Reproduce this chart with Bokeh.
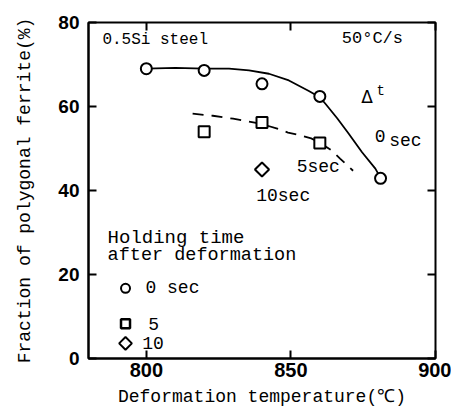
import numpy as np
from bokeh.plotting import figure
from bokeh.models import Range1d, LinearAxis, FixedTicker, Label, CustomJSTickFormatter
from bokeh.embed import file_html
from bokeh.resources import INLINE

# ---- data ----
temp_0s = [800, 820, 840, 860, 881]
frac_0s = [69.0, 68.6, 65.4, 62.4, 42.9]
temp_5s = [820, 840, 860]
frac_5s = [54.0, 56.2, 51.3]
temp_10s = [840]
frac_10s = [45.0]

# fitted trend curves (as drawn in the original figure)
curve0_x = [800, 810, 820, 828.6, 835.5, 842.4, 849.3, 856.2, 860, 862, 866, 870, 874.6, 879.2, 881]
curve0_y = [69.0, 69.2, 69.0, 69.0, 68.6, 67.8, 66.2, 63.7, 62.2, 60.6, 57.2, 53.5, 49.1, 45.2, 43.0]
curve5_x = [816, 823, 830, 837, 840, 845, 849, 853, 857, 860, 864, 867, 871.5]
curve5_y = [58.3, 57.8, 57.1, 56.2, 55.8, 54.8, 53.8, 53.2, 52.4, 51.4, 49.6, 47.6, 44.7]

x_ticks = [800, 850, 900]
y_ticks = [0, 20, 40, 60, 80]

MONO = "Liberation Mono"
SANS = "Liberation Sans"

p = figure(width=451, height=411, output_backend="svg", toolbar_location=None,
           x_range=Range1d(780, 900), y_range=Range1d(0, 80),
           min_border_left=88, min_border_right=16, min_border_top=22, min_border_bottom=53)
p.background_fill_color = "white"
p.border_fill_color = "white"
p.grid.visible = False
p.outline_line_color = "black"
p.outline_line_width = 2

for ax in (p.xaxis[0], p.yaxis[0]):
    ax.axis_line_color = "black"
    ax.axis_line_width = 2
    ax.major_tick_in = 8
    ax.major_tick_out = 0
    ax.major_tick_line_width = 2
    ax.minor_tick_line_color = None
    ax.major_label_text_font = SANS
    ax.major_label_text_font_style = "bold"
    ax.major_label_text_color = "black"
    ax.axis_label_text_font = MONO
    ax.axis_label_text_font_size = "18px"
    ax.axis_label_text_font_style = "normal"
    ax.axis_label_text_color = "black"

p.xaxis.major_label_text_font_size = "20px"
p.yaxis.major_label_text_font_size = "19px"
p.xaxis.ticker = FixedTicker(ticks=x_ticks)
p.yaxis.ticker = FixedTicker(ticks=y_ticks)
p.xaxis.axis_label = "Deformation temperature(℃)"
p.yaxis.axis_label = "Fraction of polygonal ferrite(%)"
p.xaxis.major_label_standoff = 4
p.xaxis.axis_label_standoff = 7
p.yaxis.major_label_standoff = 9
p.yaxis.axis_label_standoff = 20

# tick-only axes on top and right
blank = CustomJSTickFormatter(code="return ''")
top = LinearAxis(ticker=FixedTicker(ticks=x_ticks), formatter=blank,
                 major_label_standoff=0, major_tick_in=8, major_tick_out=0,
                 major_tick_line_width=2, minor_tick_line_color=None, axis_line_color=None)
right = LinearAxis(ticker=FixedTicker(ticks=y_ticks), formatter=blank,
                   major_label_standoff=0, major_tick_in=8, major_tick_out=0,
                   major_tick_line_width=2, minor_tick_line_color=None, axis_line_color=None)
p.add_layout(top, "above")
p.add_layout(right, "right")

# curves
p.line(curve0_x, curve0_y, line_color="black", line_width=1.8)
p.line(curve5_x, curve5_y, line_color="black", line_width=1.8, line_dash="11 8")

# markers
p.scatter(temp_0s, frac_0s, marker="circle", size=11, fill_color="white",
          line_color="black", line_width=2)
p.scatter(temp_5s, frac_5s, marker="square", size=11, fill_color="white",
          line_color="black", line_width=2)
p.scatter(temp_10s, frac_10s, marker="square", angle=np.pi / 4, size=10, fill_color="white",
          line_color="black", line_width=2)

# annotations
def lab(x, y, t, size="18px", font=MONO):
    p.add_layout(Label(x=x, y=y, text=t, text_font=font, text_font_size=size,
                       text_baseline="middle", text_align="left", text_color="black"))

lab(784.8, 75.9, "0.5Si steel", "16px")
lab(867.6, 76.2, "50°C/s", "17px")
lab(874.3, 62.3, "Δ", "17px", "DejaVu Sans")
lab(879.6, 63.6, "t", "14px")
lab(879.0, 53.0, "0", "18px")
lab(884.0, 51.9, "sec", "18px")
lab(852.0, 45.7, "5sec", "18px")
lab(838.0, 38.8, "10sec", "18px")
lab(786.6, 28.8, "Holding time", "19px")
lab(786.6, 24.5, "after deformation", "18.5px")

# legend
leg_x = [792.8, 792.8, 792.8]
leg_y = [16.7, 8.3, 3.6]
p.scatter([leg_x[0]], [leg_y[0]], marker="circle", size=9, fill_color="white",
          line_color="black", line_width=2)
p.scatter([leg_x[1]], [leg_y[1]], marker="square", size=9, fill_color="white",
          line_color="black", line_width=2.5)
p.scatter([leg_x[2]], [leg_y[2]], marker="square", angle=np.pi / 4, size=9, fill_color="white",
          line_color="black", line_width=2)
lab(799.7, 16.7, "0 sec", "18px")
lab(800.7, 8.3, "5", "18px")
lab(798.6, 3.8, "10", "18px")

open("out.html", "w").write(file_html(p, INLINE))
